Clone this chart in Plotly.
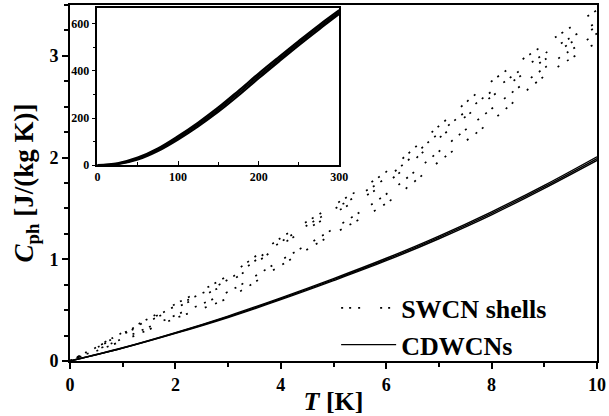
import plotly.graph_objects as go

# ---------------- data ----------------
T = [0, 1, 2, 3, 4, 5, 6, 7, 8, 9, 10]

# SWCN shells (dotted curves): upper band and lower band
swcn_u1 = [0, 0.28, 0.56, 0.84, 1.21, 1.53, 1.86, 2.31, 2.75, 3.11, 3.45]
swcn_u2 = [0, 0.27, 0.54, 0.80, 1.17, 1.49, 1.80, 2.24, 2.65, 3.02, 3.33]
swcn_u3 = [0, 0.26, 0.52, 0.77, 1.14, 1.45, 1.75, 2.19, 2.60, 2.96, 3.29]
swcn_l1 = [0, 0.22, 0.45, 0.68, 0.99, 1.30, 1.64, 2.06, 2.48, 2.88, 3.22]
swcn_l2 = [0, 0.20, 0.42, 0.62, 0.94, 1.25, 1.55, 1.96, 2.36, 2.80, 3.13]

# CDWCNs (solid curves)
cdwcn_1 = [0, 0.130, 0.279, 0.442, 0.621, 0.810, 1.010, 1.228, 1.467, 1.727, 2.008]
cdwcn_2 = [0, 0.128, 0.275, 0.435, 0.612, 0.800, 0.998, 1.215, 1.452, 1.712, 1.990]
cdwcn_3 = [0, 0.126, 0.271, 0.428, 0.603, 0.790, 0.986, 1.202, 1.437, 1.697, 1.972]

# inset: full temperature range
T_inset = [0, 25, 50, 75, 100, 125, 150, 175, 200, 225, 250, 275, 300]
inset_1 = [0, 8, 32, 71, 123, 181, 245, 316, 389, 459, 528, 595, 658]
inset_2 = [0, 6, 28, 66, 116, 173, 236, 306, 379, 449, 519, 586, 650]
inset_3 = [0, 4, 24, 60, 109, 165, 227, 296, 369, 440, 510, 577, 642]

FONT = "Liberation Serif, Times New Roman, serif"

fig = go.Figure()

dashes = ["2px,6px,2px,7px,2px,20px",
          "2px,7px,2px,16px,2px,6px",
          "2px,5px,2px,22px",
          "2px,8px,2px,6px,2px,14px",
          "2px,6px,2px,18px,2px,9px"]
for i, ys in enumerate([swcn_u1, swcn_u2, swcn_u3, swcn_l1, swcn_l2]):
    fig.add_trace(go.Scatter(
        x=T, y=ys, mode="lines", line=dict(color="black", width=1.7, dash=dashes[i], shape="spline"),
        name="<b>SWCN shells</b>", legendgroup="swcn", showlegend=(i == 0),
        xaxis="x", yaxis="y"))

for i, ys in enumerate([cdwcn_1, cdwcn_2, cdwcn_3]):
    fig.add_trace(go.Scatter(
        x=T, y=ys, mode="lines", line=dict(color="black", width=1.4, shape="spline"),
        name="<b>CDWCNs</b>", legendgroup="cd", showlegend=(i == 0),
        xaxis="x", yaxis="y"))

for ys in [inset_1, inset_2, inset_3]:
    fig.add_trace(go.Scatter(
        x=T_inset, y=ys, mode="lines", line=dict(color="black", width=2.2, shape="spline"),
        showlegend=False, xaxis="x2", yaxis="y2"))

axis_common = dict(showline=True, linecolor="black", mirror=True, showgrid=False,
                   zeroline=False, tickcolor="black")

fig.update_layout(
    width=609, height=416,
    margin=dict(l=70, r=10, t=3, b=43),
    paper_bgcolor="white", plot_bgcolor="white",
    font=dict(family=FONT, color="black"),
    xaxis=dict(**axis_common, range=[0, 10], dtick=2, linewidth=2,
               ticks="outside", ticklen=6, tickwidth=1.5,
               minor=dict(dtick=1, ticks="outside", ticklen=4, tickcolor="black"),
               tickfont=dict(size=18, family=FONT),
               title=dict(text="<b><i>T</i> [K]</b>", font=dict(size=26, family=FONT), standoff=0)),
    yaxis=dict(**axis_common, range=[0, 3.5], dtick=1, linewidth=2,
               ticks="outside", ticklen=6, tickwidth=1.5,
               minor=dict(dtick=0.25, ticks="outside", ticklen=4, tickcolor="black"),
               tickfont=dict(size=18, family=FONT),
               title=dict(text="<b><i>C</i><sub>ph</sub> [J/(kg K)]</b>", font=dict(size=27, family=FONT), standoff=8)),
    xaxis2=dict(**axis_common, domain=[0.052, 0.511], anchor="y2", range=[0, 300], dtick=100,
                linewidth=1.5, ticks="inside", ticklen=4, tickwidth=1.2,
                minor=dict(dtick=50, ticks="inside", ticklen=3, tickcolor="black"),
                tickfont=dict(size=12, family=FONT)),
    yaxis2=dict(**axis_common, domain=[0.55, 0.992], anchor="x2", range=[0, 668], dtick=200,
                linewidth=1.5, ticks="outside", ticklen=4, tickwidth=1.2,
                minor=dict(dtick=100, ticks="outside", ticklen=3, tickcolor="black"),
                tickfont=dict(size=12, family=FONT)),
    legend=dict(x=0.505, y=0.215, xanchor="left", yanchor="top",
                bgcolor="rgba(0,0,0,0)", font=dict(size=26, family=FONT),
                itemwidth=55, tracegroupgap=0),
)

# bold tick labels
fig.update_xaxes(tickprefix="<b>", ticksuffix="</b>")
fig.update_yaxes(tickprefix="<b>", ticksuffix="</b>")

fig.write_html("out.html")
